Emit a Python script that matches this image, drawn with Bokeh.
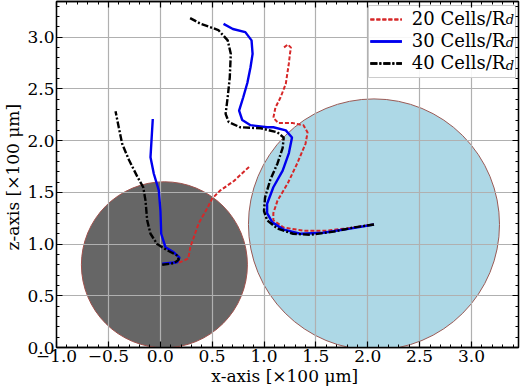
from bokeh.plotting import figure
from bokeh.models import (Range1d, LinearAxis, SingleIntervalTicker, CustomJSTickFormatter,
                          Legend, LegendItem, Label)
from bokeh.embed import file_html
from bokeh.resources import INLINE

# ---- data (x, z in units of 100 um) ----
circ_dark_x, circ_dark_y, circ_dark_r = [0.04], [0.80], [0.80]
circ_light_x, circ_light_y, circ_light_r = [2.06], [1.19], [1.21]

red_a_x = [0.18, 0.27, 0.29, 0.37, 0.455, 0.50, 0.58, 0.71, 0.87]
red_a_y = [0.82, 0.86, 0.97, 1.20, 1.35, 1.44, 1.52, 1.61, 1.76]
red_b_x = [2.06, 1.86, 1.61, 1.38, 1.19, 1.09, 1.09, 1.13, 1.23, 1.32, 1.40, 1.42, 1.38, 1.28,
           1.14, 1.09, 1.11, 1.16, 1.21, 1.24, 1.25, 1.26, 1.23, 1.19]
red_b_y = [1.19, 1.16, 1.13, 1.13, 1.16, 1.23, 1.30, 1.42, 1.59, 1.78, 1.97, 2.08, 2.15, 2.17,
           2.17, 2.22, 2.32, 2.42, 2.55, 2.75, 2.84, 2.90, 2.93, 2.90]

blue_a_x = [0.019, 0.163, 0.186, 0.13, 0.05, 0.009, 0.002, -0.014, -0.062, -0.094, -0.072]
blue_a_y = [0.81, 0.825, 0.87, 0.92, 0.97, 1.10, 1.32, 1.52, 1.68, 1.84, 2.21]
blue_b_x = [2.06, 1.83, 1.57, 1.35, 1.19, 1.08, 1.03, 1.03, 1.09, 1.18, 1.24, 1.27, 1.21, 1.09,
            1.03, 0.87, 0.79, 0.76, 0.80, 0.84, 0.87, 0.89, 0.88, 0.82, 0.70, 0.61]
blue_b_y = [1.19, 1.15, 1.11, 1.10, 1.14, 1.21, 1.30, 1.39, 1.55, 1.71, 1.88, 2.03, 2.10, 2.13,
            2.13, 2.15, 2.20, 2.29, 2.42, 2.56, 2.71, 2.84, 2.97, 3.05, 3.08, 3.13]

black_a_x = [0.019, 0.13, 0.179, 0.163, 0.067, -0.03, -0.094, -0.126, -0.142, -0.164, -0.22,
             -0.30, -0.367, -0.40, -0.431]
black_a_y = [0.80, 0.815, 0.85, 0.89, 0.94, 1.00, 1.10, 1.23, 1.42, 1.55, 1.65, 1.81, 1.97,
             2.13, 2.285]
black_b_x = [2.06, 1.86, 1.67, 1.45, 1.28, 1.13, 1.03, 1.00, 1.01, 1.06, 1.13, 1.18, 1.19, 1.13,
             0.97, 0.77, 0.66, 0.63, 0.65, 0.67, 0.68, 0.65, 0.56, 0.39, 0.28]
black_b_y = [1.19, 1.16, 1.12, 1.09, 1.10, 1.15, 1.23, 1.32, 1.45, 1.62, 1.78, 1.93, 2.03, 2.08,
             2.12, 2.13, 2.18, 2.26, 2.42, 2.61, 2.84, 2.97, 3.07, 3.13, 3.19]

series_labels = ["20 Cells/R", "30 Cells/R", "40 Cells/R"]
subscript = "d"
x_label = "x-axis  [\u00d7100 \u03bcm]"
z_label = "z-axis  [\u00d7100 \u03bcm]"

FONT = "DejaVu Serif"
FS = "17px"

p = figure(width=520, height=390, output_backend="svg", toolbar_location=None,
           x_range=Range1d(-1.0, 3.453), y_range=Range1d(0.0, 3.346),
           min_border_left=56, min_border_bottom=43, min_border_top=1, min_border_right=2)
p.background_fill_color = "white"
p.border_fill_color = "white"
p.outline_line_color = "black"
p.outline_line_width = 1.3

# circles
p.circle(circ_dark_x, circ_dark_y, radius=circ_dark_r[0], fill_color="#666666",
         line_color="#a0524d", line_width=1, level="image")
p.circle(circ_light_x, circ_light_y, radius=circ_light_r[0], fill_color="#add8e6",
         line_color="#9a5a55", line_width=1, level="image")

# grid
for g in (p.xgrid[0], p.ygrid[0]):
    g.grid_line_color = "#b0b0b0"
    g.grid_line_width = 1.2

RED = "#d62728"
r_red = [p.line(red_a_x, red_a_y, line_color=RED, line_width=2, line_dash="4 2"),
         p.line(red_b_x, red_b_y, line_color=RED, line_width=2, line_dash="4 2")]
r_blue = [p.line(blue_a_x, blue_a_y, line_color="#0000ee", line_width=2.4),
          p.line(blue_b_x, blue_b_y, line_color="#0000ee", line_width=2.4)]
r_black = [p.line(black_a_x, black_a_y, line_color="black", line_width=2.4, line_dash="7 2 2 2"),
           p.line(black_b_x, black_b_y, line_color="black", line_width=2.4, line_dash="7 2 2 2")]

fmt = CustomJSTickFormatter(code="return tick.toFixed(1).replace('-', '\\u2212');")

def style_axis(ax, labels=True):
    ax.ticker = SingleIntervalTicker(interval=0.5, num_minor_ticks=5)
    ax.major_tick_in = 6
    ax.major_tick_out = 0
    ax.minor_tick_in = 3
    ax.minor_tick_out = 0
    ax.major_tick_line_color = "black"
    ax.minor_tick_line_color = "black"
    ax.major_tick_line_width = 1.2
    ax.minor_tick_line_width = 1
    ax.axis_line_color = "black"
    ax.axis_line_width = 1.3
    if labels:
        ax.formatter = fmt
        ax.major_label_text_font = FONT
        ax.major_label_text_font_size = FS
        ax.major_label_text_color = "black"
        ax.major_label_standoff = 2
        ax.axis_label_text_font = FONT
        ax.axis_label_text_font_size = FS
        ax.axis_label_text_font_style = "normal"
        ax.axis_label_text_color = "black"
        ax.axis_label_standoff = 1
    else:
        ax.major_label_text_font_size = "1px"
        ax.major_label_text_color = None
        ax.major_label_standoff = 0

style_axis(p.xaxis[0])
style_axis(p.yaxis[0])
p.xaxis[0].axis_label = x_label
p.yaxis[0].axis_label = z_label

ax_top = LinearAxis()
ax_right = LinearAxis()
style_axis(ax_top, labels=False)
style_axis(ax_right, labels=False)
p.add_layout(ax_top, "above")
p.add_layout(ax_right, "right")

# legend frame (drawn above the curves, below the legend entries)
p.quad(left=[2.007], right=[3.424], bottom=[2.611], top=[3.307], fill_color="white",
       fill_alpha=0.9, line_color="#cccccc", line_width=1, level="guide")

legend = Legend(items=[LegendItem(label=s + " ", renderers=r) for s, r in
                       zip(series_labels, [r_red, r_blue, r_black])],
                location="top_right")
legend.label_text_font = FONT
legend.label_text_font_size = "18px"
legend.label_text_color = "black"
legend.glyph_width = 32
legend.label_standoff = 10
legend.spacing = 1
legend.padding = 4
legend.margin = 3
legend.border_line_alpha = 0
legend.background_fill_alpha = 0
p.add_layout(legend, "center")

# italic subscript "d" after each legend label
for yy in (3.10, 2.875, 2.65):
    p.add_layout(Label(x=3.33, y=yy, text=subscript, text_font=FONT, text_font_size="13px",
                       text_font_style="italic", text_color="black"))

open("out.html", "w").write(file_html(p, INLINE))
